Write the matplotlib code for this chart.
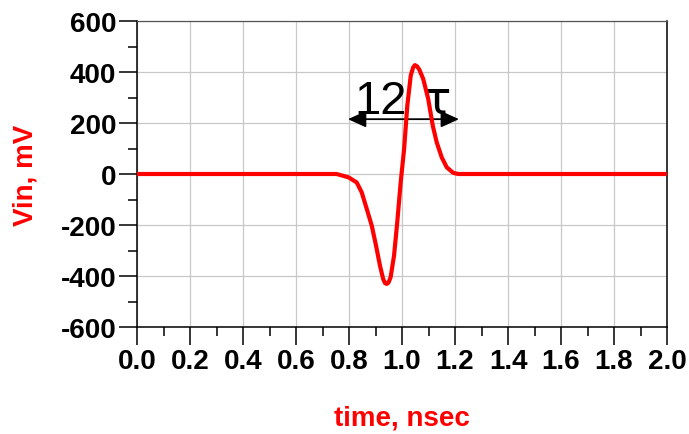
import numpy as np
import matplotlib
matplotlib.use('Agg')
import matplotlib.pyplot as plt
from matplotlib.ticker import MultipleLocator, FormatStrFormatter

# ─── Datos ───────────────────────────────────────────────────────────────────
t_ns = [0.0, 0.753, 0.798, 0.829, 0.848, 0.867, 0.886, 0.902, 0.917, 0.929,
        0.936, 0.942, 0.949, 0.957, 0.970, 0.982, 0.995, 1.008, 1.020, 1.033,
        1.042, 1.049, 1.057, 1.065, 1.080, 1.099, 1.116, 1.131, 1.150, 1.169,
        1.194, 1.213, 2.0]
vin_mv = [0, 0, -13, -33, -72, -137, -203, -281, -360, -412,
          -428, -431, -426, -405, -320, -190, -33, 98, 268, 386,
          418, 427, 422, 410, 373, 294, 190, 124, 65, 26,
          4, 0, 0]

arrow_t = [0.796, 1.215]
arrow_v = 215
label_num = '12'
label_tau = 'τ'

xticks = np.arange(0, 2.01, 0.2)
yticks = np.arange(-600, 601, 200)

# ─── Figura ──────────────────────────────────────────────────────────────────
plt.rcParams['font.family'] = ['Liberation Sans', 'DejaVu Sans']

fig = plt.figure(figsize=(6.89, 4.35), dpi=100)
ax = fig.add_axes([137 / 689, 1 - 328 / 435, 530 / 689, 306 / 435])

ax.plot(t_ns, vin_mv, color='#ff0000', lw=3.0, zorder=5,
        solid_joinstyle='round', solid_capstyle='butt')

ax.annotate('', xy=(arrow_t[1], arrow_v), xytext=(arrow_t[0], arrow_v),
            arrowprops=dict(arrowstyle='<|-|>,head_length=1.1,head_width=0.5',
                            color='black', lw=1.3, shrinkA=0, shrinkB=0),
            zorder=3)
ax.text(0.820, 240, label_num, fontsize=34, ha='left', va='baseline', zorder=3)
ax.text(1.078, 240, label_tau, fontsize=34, ha='left', va='baseline', zorder=3,
        family='DejaVu Sans')

ax.set_xlim(0, 2.0)
ax.set_ylim(-600, 600)
ax.set_xticks(xticks)
ax.set_yticks(yticks)
ax.xaxis.set_minor_locator(MultipleLocator(0.1))
ax.yaxis.set_minor_locator(MultipleLocator(100))
ax.xaxis.set_major_formatter(FormatStrFormatter('%.1f'))
ax.yaxis.set_major_formatter(FormatStrFormatter('%d'))

ax.grid(True, which='major', color='#c8c8c8', lw=0.9, zorder=0)
ax.set_axisbelow(True)

ax.tick_params(which='major', direction='out', length=13, width=1.1,
               labelsize=20, pad=2)
ax.tick_params(which='minor', direction='out', length=6.5, width=1.1)
ax.tick_params(top=False, right=False, which='both')
for lab in ax.get_xticklabels() + ax.get_yticklabels():
    lab.set_fontweight('bold')

for side in ['left', 'bottom', 'right']:
    ax.spines[side].set_linewidth(1.1)
    ax.spines[side].set_color('black')
ax.spines['top'].set_linewidth(0.9)
ax.spines['top'].set_color('#555555')

ax.set_xlabel('time, nsec', fontsize=20, fontweight='bold', color='#ff0000',
              labelpad=22)
ax.set_ylabel('Vin, mV', fontsize=20, fontweight='bold', color='#ff0000',
              labelpad=16)

fig.savefig('out.png', dpi=100)
